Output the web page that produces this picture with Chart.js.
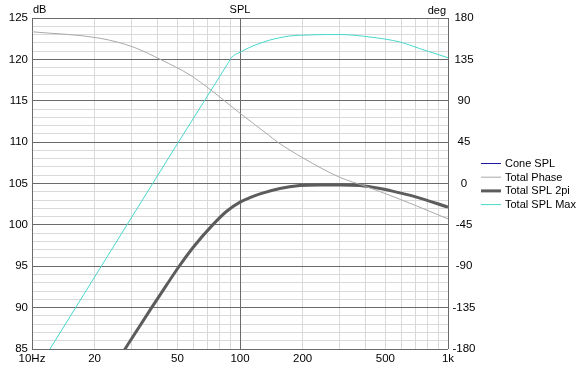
<!DOCTYPE html>
<html><head><meta charset="utf-8">
<script src="https://cdn.jsdelivr.net/npm/chart.js@4/dist/chart.umd.min.js"></script>
<style>html,body{margin:0;padding:0;background:#fff}</style>
</head><body>
<canvas id="c" width="585" height="368" style="display:block;width:585px;height:368px"></canvas>
<script>
// ---- data ----
const seriesNames = ["Cone SPL", "Total Phase", "Total SPL 2pi", "Total SPL Max"];

const coneFreq = [];
const coneSpl = [];

const phaseFreq = [10, 21.2, 30.6, 41.9, 57.5, 73.1, 100, 136.8, 150.6, 200.9, 300, 400, 500, 700, 1000];
const phaseDeg  = [165, 158, 148.5, 134.4, 118, 101, 76.4, 52.9, 45.5, 27.8, 7, -3, -11, -24, -38.5];

const spl2piFreq = [25, 28, 37.6, 44.4, 51, 59.6, 73.9, 86.3, 100, 111.6, 124.8, 155.6, 193.7, 241, 302.6, 377, 471, 526, 693, 1000];
const spl2piDb   = [83.06, 85, 90, 92.75, 95, 97.3, 100, 101.65, 102.75, 103.3, 103.75, 104.4, 104.75, 104.83, 104.83, 104.75, 104.4, 104.15, 103.42, 102.14];

const splMaxFreq = [10, 20, 50, 88, 91.2, 100, 111.6, 124.9, 139.4, 155.6, 173.7, 216, 260, 301, 422, 587, 732, 1000];
const splMaxDb   = [81.5, 93.7, 109.8, 119.62, 120.25, 120.86, 121.46, 121.94, 122.34, 122.62, 122.83, 122.95, 123.0, 123.0, 122.7, 122.1, 121.3, 120.2];

const xTickValues = [10, 20, 30, 40, 50, 60, 70, 80, 90, 100, 200, 300, 400, 500, 600, 700, 800, 900, 1000];
const xTickLabels = {10: "10Hz", 20: "20", 50: "50", 100: "100", 200: "200", 500: "500", 1000: "1k"};
const xMajor = [10, 100, 1000];
const dbTickLabels = [85, 90, 95, 100, 105, 110, 115, 120, 125];
const degTickLabels = [-180, -135, -90, -45, 0, 45, 90, 135, 180];
const axisTitles = {left: "dB", top: "SPL", right: "deg"};

// ---- build ----
const pts = (xs, ys) => xs.map((x, i) => ({x: x, y: ys[i]}));
const FONT = '"Liberation Sans", Arial, sans-serif';
const MAJOR = '#6a6a6a', MINOR = '#d9d9d9';

const dbGrid = [];
for (let v = 85; v <= 125; v++) dbGrid.push(v);

const overlay = {
  id: 'overlay',
  afterDraw(chart) {
    const ctx = chart.ctx, a = chart.chartArea;
    ctx.save();
    ctx.font = '11px ' + FONT;
    ctx.fillStyle = '#000';
    ctx.textBaseline = 'middle';
    ctx.textAlign = 'left';
    ctx.fillText(axisTitles.left, a.left + 1, 10);
    ctx.textAlign = 'center';
    ctx.fillText(axisTitles.top, (a.left + a.right) / 2, 10);
    ctx.textAlign = 'right';
    ctx.fillText(axisTitles.right, a.right - 2, 11);
    // legend
    const lx0 = 481, lx1 = 501, tx = 505, y0 = 163.5, dy = 13.7;
    chart.data.datasets.forEach((ds, i) => {
      const y = y0 + i * dy;
      ctx.beginPath();
      ctx.strokeStyle = ds.borderColor;
      ctx.lineWidth = ds.borderWidth;
      ctx.moveTo(lx0, y); ctx.lineTo(lx1, y);
      ctx.stroke();
      ctx.textAlign = 'left';
      ctx.fillStyle = '#000';
      ctx.fillText(ds.label, tx, y + 0.5);
    });
    ctx.restore();
  }
};

new Chart(document.getElementById('c'), {
  type: 'line',
  data: {
    datasets: [
      {label: seriesNames[0], data: pts(coneFreq, coneSpl), borderColor: '#1a1aa0', borderWidth: 1, yAxisID: 'y', pointRadius: 0},
      {label: seriesNames[1], data: pts(phaseFreq, phaseDeg), borderColor: '#a9a9a9', borderWidth: 1, yAxisID: 'y2', pointRadius: 0, cubicInterpolationMode: 'monotone'},
      {label: seriesNames[2], data: pts(spl2piFreq, spl2piDb), borderColor: '#5c5c5c', borderWidth: 3, yAxisID: 'y', pointRadius: 0, cubicInterpolationMode: 'monotone'},
      {label: seriesNames[3], data: pts(splMaxFreq, splMaxDb), borderColor: '#48d8cc', borderWidth: 1, yAxisID: 'y', pointRadius: 0, cubicInterpolationMode: 'monotone'}
    ]
  },
  options: {
    responsive: false,
    animation: false,
    devicePixelRatio: 1,
    layout: {padding: {top: 18, left: 0, right: 0, bottom: 0}},
    plugins: {legend: {display: false}, tooltip: {enabled: false}},
    scales: {
      x: {
        type: 'logarithmic', min: 10, max: 1000, position: 'bottom',
        afterBuildTicks: s => { s.ticks = xTickValues.map(v => ({value: v})); },
        afterFit: s => { s.height = 19; },
        grid: {z: -3, drawTicks: false, color: c => xMajor.includes(c.tick && c.tick.value) ? MAJOR : MINOR},
        border: {display: false},
        ticks: {autoSkip: false, maxRotation: 0, padding: 3, color: '#000', font: {family: FONT, size: 11.5},
          callback: v => xTickLabels[v] !== undefined ? xTickLabels[v] : ''}
      },
      y: {
        type: 'linear', min: 85, max: 125, position: 'left',
        afterBuildTicks: s => { s.ticks = dbGrid.map(v => ({value: v})); },
        afterFit: s => { s.width = 32; },
        grid: {z: -3, drawTicks: false, color: c => (c.tick && c.tick.value % 5 === 0) ? MAJOR : MINOR},
        border: {display: false},
        ticks: {autoSkip: false, padding: 4, color: '#000', font: {family: FONT, size: 11.5},
          callback: v => dbTickLabels.includes(v) ? String(v) : ''}
      },
      xMaj: {
        type: 'logarithmic', min: 10, max: 1000, position: 'bottom',
        afterBuildTicks: s => { s.ticks = xMajor.map(v => ({value: v})); },
        afterFit: s => { s.height = 0; },
        grid: {z: -2, drawTicks: false, color: MAJOR},
        border: {display: false},
        ticks: {display: false}
      },
      yMaj: {
        type: 'linear', min: 85, max: 125, position: 'left',
        afterBuildTicks: s => { s.ticks = dbTickLabels.map(v => ({value: v})); },
        afterFit: s => { s.width = 0; },
        grid: {z: -2, drawTicks: false, color: MAJOR},
        border: {display: false},
        ticks: {display: false}
      },
      y2: {
        type: 'linear', min: -180, max: 180, position: 'right',
        afterBuildTicks: s => { s.ticks = degTickLabels.map(v => ({value: v})); },
        afterFit: s => { s.width = 137; },
        grid: {display: false, drawTicks: false},
        border: {display: false},
        ticks: {autoSkip: false, padding: 4.5, crossAlign: 'center', color: '#000', font: {family: FONT, size: 11.5},
          callback: v => String(v)}
      }
    }
  },
  plugins: [overlay]
});
</script>
</body></html>
